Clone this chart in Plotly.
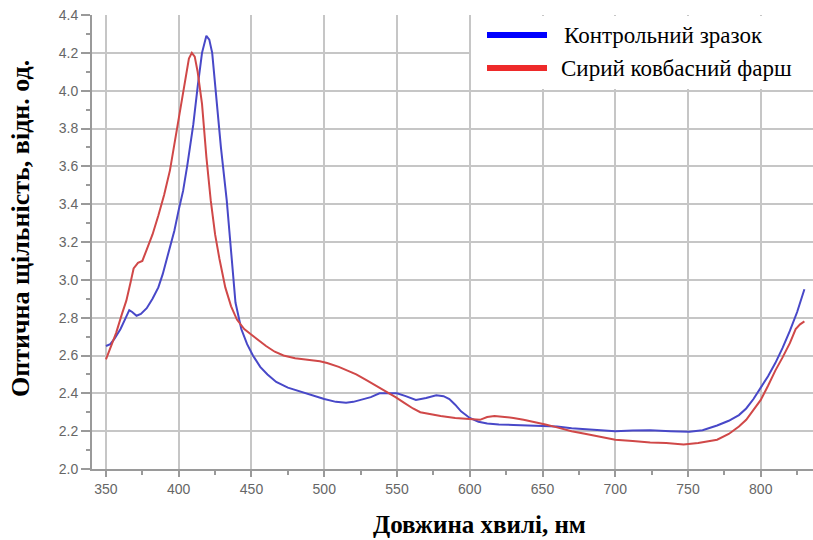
import plotly.graph_objects as go

# ---- data ----
control_x = [350, 353, 356, 360, 363, 366, 368, 371, 374, 378, 382, 386, 389, 393, 397, 400, 403, 406,
             410, 413, 416, 419, 421, 423, 426, 429, 433, 436, 439, 443, 447, 451, 456, 461, 467, 475,
             483, 490, 500, 508, 515, 520, 525, 532, 538, 545, 550, 556, 563, 570, 577, 582, 586, 590,
             594, 600, 606, 612, 620, 630, 640, 650, 660, 670, 680, 690, 700, 712, 724, 738, 751, 760,
             770, 778, 785, 790, 795, 800, 805, 810, 815, 820, 825, 830]
control_y = [2.65, 2.66, 2.69, 2.74, 2.79, 2.84, 2.83, 2.81, 2.82, 2.85, 2.90, 2.96, 3.03, 3.14, 3.26,
             3.37, 3.47, 3.61, 3.82, 4.02, 4.20, 4.29, 4.27, 4.20, 3.95, 3.70, 3.42, 3.13, 2.88, 2.74,
             2.66, 2.60, 2.54, 2.50, 2.46, 2.43, 2.41, 2.395, 2.37, 2.355, 2.35, 2.355, 2.365, 2.38,
             2.40, 2.40, 2.40, 2.385, 2.365, 2.375, 2.39, 2.385, 2.37, 2.34, 2.305, 2.27, 2.25, 2.24,
             2.235, 2.233, 2.23, 2.23, 2.225, 2.215, 2.21, 2.205, 2.20, 2.203, 2.205, 2.20, 2.197,
             2.205, 2.23, 2.255, 2.285, 2.32, 2.37, 2.43, 2.49, 2.56, 2.64, 2.73, 2.83, 2.95]

raw_x = [350, 353, 357, 361, 364, 367, 369, 372, 375, 378, 382, 386, 390, 394, 398, 401, 404, 407, 409,
         411, 413, 416, 419, 422, 425, 428, 432, 436, 440, 445, 450, 455, 460, 466, 472, 480, 490, 497,
         502, 510, 516, 522, 529, 536, 543, 549, 555, 561, 566, 572, 580, 590, 600, 607, 612, 617, 624,
         630, 637, 644, 652, 660, 670, 680, 690, 700, 712, 724, 735, 747, 757, 763, 770, 778, 785, 790,
         795, 800, 805, 810, 815, 820, 824, 827, 830]
raw_y = [2.58, 2.64, 2.72, 2.82, 2.89, 2.99, 3.06, 3.09, 3.10, 3.16, 3.24, 3.34, 3.45, 3.58, 3.76, 3.90,
         4.05, 4.17, 4.20, 4.18, 4.10, 3.93, 3.65, 3.42, 3.24, 3.11, 2.96, 2.86, 2.79, 2.74, 2.71, 2.68,
         2.65, 2.62, 2.60, 2.585, 2.575, 2.57, 2.56, 2.54, 2.52, 2.50, 2.47, 2.44, 2.41, 2.38, 2.35,
         2.32, 2.30, 2.29, 2.28, 2.27, 2.265, 2.26, 2.275, 2.28, 2.275, 2.27, 2.26, 2.25, 2.235, 2.22,
         2.20, 2.185, 2.17, 2.155, 2.148, 2.14, 2.137, 2.13, 2.137, 2.145, 2.155, 2.185, 2.225, 2.26,
         2.31, 2.365, 2.44, 2.52, 2.59, 2.665, 2.74, 2.765, 2.78]

x_ticks = [350, 400, 450, 500, 550, 600, 650, 700, 750, 800]
y_ticks = [2.0, 2.2, 2.4, 2.6, 2.8, 3.0, 3.2, 3.4, 3.6, 3.8, 4.0, 4.2, 4.4]

series_names = ["Контрольний зразок", "Сирий ковбасний фарш"]
x_title = "Довжина хвилі, нм"
y_title = "Оптична щільність, відн. од."

# ---- layout geometry (px) ----
W, H = 813, 540
ML, MR, MT, MB = 92, 0, 15, 71
PW, PH = W - ML - MR, H - MT - MB


def px_x(px):
    return (px - ML) / PW


def px_y(py):
    return (H - MB - py) / PH


fig = go.Figure()
fig.add_trace(go.Scatter(x=control_x, y=control_y, mode="lines", name=series_names[0],
                         line=dict(color="rgb(72,72,200)", width=2), showlegend=False))
fig.add_trace(go.Scatter(x=raw_x, y=raw_y, mode="lines", name=series_names[1],
                         line=dict(color="rgb(208,72,72)", width=2), showlegend=False))

grid = "#c6c6c6"
tickfont = dict(family="Liberation Sans, Arial, sans-serif", size=14, color="#666666")

fig.update_xaxes(range=[340.4, 835.9], tickvals=x_ticks, ticktext=[str(v) for v in x_ticks],
                 showgrid=True, gridcolor=grid, gridwidth=2,
                 showline=True, linecolor="#9a9a9a", linewidth=2,
                 ticks="outside", ticklen=6, tickwidth=1.5, tickcolor="#9a9a9a",
                 minor=dict(dtick=25, tick0=350, ticks="outside", ticklen=4, tickcolor="#9a9a9a",
                            showgrid=False),
                 tickfont=tickfont, zeroline=False)
fig.update_yaxes(range=[2.0, 4.4], tickvals=y_ticks, ticktext=[f"{v:.1f}" for v in y_ticks],
                 showgrid=True, gridcolor=grid, gridwidth=2,
                 showline=True, linecolor="#9a9a9a", linewidth=2,
                 ticks="outside", ticklen=9, tickwidth=1.5, tickcolor="#9a9a9a",
                 minor=dict(dtick=0.1, tick0=2.0, ticks="outside", ticklen=4, tickcolor="#9a9a9a",
                            showgrid=False),
                 tickfont=tickfont, zeroline=False)

titlefont = dict(family="Liberation Serif", size=26, color="black")
xtitlefont = dict(family="Liberation Serif", size=25, color="black")
annotations = [
    dict(text=f"<b>{y_title}</b>", xref="paper", yref="paper", x=px_x(20), y=px_y(229),
         textangle=-90, showarrow=False, font=titlefont, xanchor="center", yanchor="middle"),
    dict(text=f"<b>{x_title}</b>", xref="paper", yref="paper", x=px_x(479), y=px_y(524),
         showarrow=False, font=xtitlefont, xanchor="center", yanchor="middle", borderpad=0),
]

legfont = dict(family="Liberation Serif", size=23, color="black")
legend_colors = ["#0000ff", "#ee2a2a"]
legend_rows = [35, 68]
legend_text_x = [562, 559]
shapes = [dict(type="rect", xref="paper", yref="paper", x0=px_x(471), x1=px_x(813),
               y0=px_y(89), y1=px_y(16), fillcolor="white", line=dict(width=0), layer="above")]
for name, col, ry, tx in zip(series_names, legend_colors, legend_rows, legend_text_x):
    shapes.append(dict(type="line", xref="paper", yref="paper", x0=px_x(487), x1=px_x(547),
                       y0=px_y(ry), y1=px_y(ry), line=dict(color=col, width=6), layer="above"))
    annotations.append(dict(text=name, xref="paper", yref="paper", x=px_x(tx), y=px_y(ry),
                            showarrow=False, font=legfont, xanchor="left", yanchor="middle"))

fig.update_layout(width=W, height=H, margin=dict(l=ML, r=MR, t=MT, b=MB),
                  paper_bgcolor="white", plot_bgcolor="white",
                  annotations=annotations, shapes=shapes, showlegend=False)

fig.write_html("out.html")
